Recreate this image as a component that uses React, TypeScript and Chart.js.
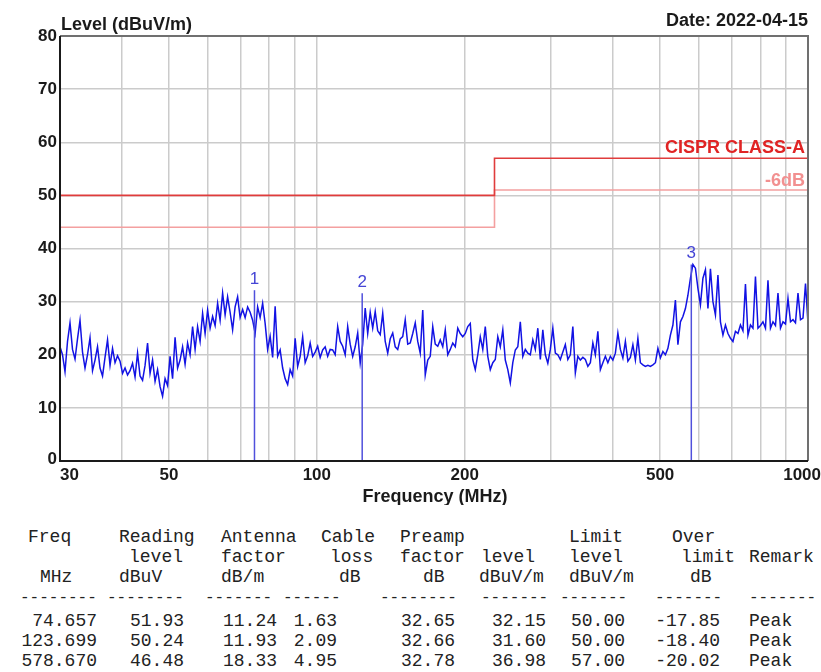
import React, { useEffect, useRef } from "react";
import { Chart, registerables } from "chart.js";

Chart.register(...registerables);

// ---------------- data ----------------
const SWEEP_START = 30;
const SWEEP_STOP = 1000;

const TRACE_LEVEL = [
  21.5, 20.0, 16.8, 22.5, 26.0, 21.0, 19.2, 23.0, 26.5, 20.5,
  17.5, 20.0, 23.2, 17.0, 19.0, 21.5, 17.5, 16.0, 19.5, 22.8,
  18.0, 21.2, 18.5, 19.8, 18.8, 16.5, 17.5, 16.2, 17.0, 18.4,
  15.8, 20.3, 16.0, 15.2, 18.0, 22.2, 16.5, 19.0, 15.0, 17.2,
  14.0, 12.2, 15.5, 14.2, 19.7, 15.5, 23.3, 17.5, 19.0, 21.5,
  18.2, 22.2, 20.0, 25.3, 21.0, 25.3, 22.5, 27.8, 24.0, 28.4,
  25.0, 27.2, 25.5, 29.7, 26.5, 31.6, 27.5, 30.9, 28.0, 24.7,
  29.0, 30.9, 27.0, 28.5, 27.0, 29.0,
  28.0, 26.5, 24.0, 29.0, 27.0, 29.7, 25.9, 21.0, 23.5, 19.5,
  29.1, 19.7, 20.9, 17.5, 15.5, 14.4, 17.2, 16.0, 23.1, 17.8,
  19.7, 23.4, 18.5, 19.8, 22.2, 19.7, 20.5, 21.6, 19.5, 20.9,
  21.5, 19.7, 21.0, 20.9, 20.0, 25.3, 22.5, 21.6, 20.0, 25.3,
  22.0, 19.7, 21.5, 24.1, 18.4, 22.0, 28.8, 24.0, 28.0, 25.0,
  28.1, 24.5, 23.8, 27.8, 22.5, 20.3, 23.0, 24.1, 21.5, 21.0,
  23.0, 23.4, 26.6, 22.0, 22.2, 24.0, 26.0, 22.5, 20.3, 28.4,
  16.2, 19.0, 19.7,
  25.3, 22.0, 21.6, 22.8, 21.5, 24.7, 20.0, 21.0, 22.2, 21.5,
  25.0, 24.0, 23.4, 24.0, 25.3, 25.9, 19.1, 17.2, 20.0, 23.4,
  21.0, 25.3, 19.7, 17.2, 18.5, 19.1, 23.4, 21.5, 24.7, 19.0,
  17.2, 14.7, 18.5, 20.9, 21.5, 26.2, 19.7, 21.0, 20.3, 20.0,
  22.8, 21.0, 25.0, 19.1, 24.7, 20.0, 18.4, 21.0, 25.0, 20.3,
  20.0, 19.1, 20.5, 21.9, 19.1, 20.0, 25.3, 16.6, 19.7, 19.0,
  19.5, 19.1, 17.8, 18.5, 22.2, 20.0, 24.4, 17.2, 18.5, 19.7,
  18.5, 19.7, 19.0, 20.3, 24.1,
  21.0, 19.4, 22.5, 18.8, 19.5, 21.9, 19.0, 23.1, 18.5, 18.1,
  17.8, 18.0, 17.8, 18.1, 18.5, 21.2, 19.4, 20.6, 20.0, 21.2,
  23.7, 25.6, 30.3, 21.9, 26.2, 27.2, 28.7, 31.2, 34.4, 37.0,
  36.3, 32.5, 29.4, 34.4, 36.0, 28.7, 36.2, 30.0, 27.5, 35.0,
  26.2, 23.7, 25.6, 24.0, 23.1, 22.5, 24.4, 24.0, 25.6, 24.5,
  33.3, 23.7, 25.6, 25.0, 34.7, 25.0, 25.5, 26.2, 25.0, 34.0,
  25.0, 26.2, 25.5, 31.6, 25.0, 26.2, 25.8, 30.6, 26.2, 26.6,
  26.0, 31.6, 26.6, 26.9, 33.4, 25.9,
];

const LIMIT_FREQ = [30, 230, 230, 1000];
const LIMIT_CLASS_A = [50, 50, 57, 57];
const LIMIT_MINUS_6DB = [44, 44, 51, 51];

const MARKER_FREQ = [74.657, 123.699, 578.67];
const MARKER_LEVEL = [32.15, 31.6, 36.98];
const MARKER_LABEL = ["1", "2", "3"];

const X_GRID = [30, 40, 50, 60, 70, 80, 90, 100, 200, 300, 400, 500, 600, 700, 800, 900, 1000];
const X_LABELS = [30, 50, 100, 200, 500, 1000];
const Y_TICKS = [0, 10, 20, 30, 40, 50, 60, 70, 80];

const TBL_FREQ = ["74.657", "123.699", "578.670"];
const TBL_READING = ["51.93", "50.24", "46.48"];
const TBL_ANTENNA = ["11.24", "11.93", "18.33"];
const TBL_CABLE = ["1.63", "2.09", "4.95"];
const TBL_PREAMP = ["32.65", "32.66", "32.78"];
const TBL_LEVEL = ["32.15", "31.60", "36.98"];
const TBL_LIMIT = ["50.00", "50.00", "57.00"];
const TBL_OVER = ["-17.85", "-18.40", "-20.02"];
const TBL_REMARK = ["Peak", "Peak", "Peak"];

// sweep grid of the receiver (log spaced points between start and stop)
const TRACE_FREQ = TRACE_LEVEL.map(
  (_, i) => SWEEP_START * Math.pow(SWEEP_STOP / SWEEP_START, i / (TRACE_LEVEL.length - 1))
);

// ---------------- layout ----------------
const W = 821;
const CH = 505;
const SANS = '"Liberation Sans", Arial, sans-serif';
const MONO = '"Liberation Mono", "DejaVu Sans Mono", monospace';

const HEAD_ROWS: Array<Array<[string, number]>> = [
  [["Freq", 28], ["Reading", 119], ["Antenna", 221], ["Cable", 321], ["Preamp", 400], ["Limit", 569], ["Over", 672]],
  [["level", 129], ["factor", 221], ["loss", 330], ["factor", 400], ["level", 481], ["level", 569], ["limit", 681], ["Remark", 749]],
  [["MHz", 40], ["dBuV", 119], ["dB/m", 221], ["dB", 339], ["dB", 423], ["dBuV/m", 479], ["dBuV/m", 569], ["dB", 690]],
];
const DASH_GROUPS: Array<[number, number]> = [
  [20, 8], [107, 8], [205, 7], [283, 6], [380, 8], [481, 7], [560, 7], [655, 7], [749, 7],
];
const DATA_COLS = [TBL_FREQ, TBL_READING, TBL_ANTENNA, TBL_CABLE, TBL_PREAMP, TBL_LEVEL, TBL_LIMIT, TBL_OVER];
const DATA_RIGHT = [97, 184, 277, 337, 455, 546, 625, 720];
const REMARK_LEFT = 749;
const ROW_Y = [537, 557, 577, 598, 621, 641, 661];

const overlay = {
  id: "overlay",
  afterDraw(chart: any) {
    const { ctx, chartArea: a, scales } = chart;
    const x = scales.x;
    const y = scales.y;
    ctx.save();
    // frame
    ctx.lineWidth = 2;
    ctx.strokeStyle = "#707070";
    ctx.beginPath();
    ctx.moveTo(a.left, a.top);
    ctx.lineTo(a.right, a.top);
    ctx.lineTo(a.right, a.bottom);
    ctx.stroke();
    ctx.strokeStyle = "#1a1a1a";
    ctx.beginPath();
    ctx.moveTo(a.left, a.top);
    ctx.lineTo(a.left, a.bottom);
    ctx.lineTo(a.right, a.bottom);
    ctx.stroke();

    // y tick labels
    ctx.fillStyle = "#1a1a1a";
    ctx.font = `bold 17px ${SANS}`;
    ctx.textAlign = "right";
    ctx.textBaseline = "middle";
    Y_TICKS.forEach((v) => ctx.fillText(String(v), a.left - 3, y.getPixelForValue(v) - (v === 0 ? 2 : 0)));

    // x tick labels
    X_LABELS.forEach((v, i) => {
      const last = i === X_LABELS.length - 1;
      ctx.textAlign = i === 0 ? "left" : last ? "right" : "center";
      const px = i === 0 ? a.left : last ? chart.width : x.getPixelForValue(v);
      ctx.fillText(String(v), px, a.bottom + 14);
    });

    // titles
    ctx.font = `bold 18px ${SANS}`;
    ctx.textBaseline = "alphabetic";
    ctx.textAlign = "left";
    ctx.fillText("Level (dBuV/m)", a.left + 1, 30);
    ctx.textAlign = "right";
    ctx.fillText("Date: 2022-04-15", a.right, 26);
    ctx.textAlign = "center";
    ctx.fillText("Frequency (MHz)", (a.left + a.right) / 2 + 1, 502);

    // limit labels
    ctx.textAlign = "right";
    ctx.fillStyle = "#e02424";
    ctx.fillText("CISPR CLASS-A", a.right - 3, y.getPixelForValue(LIMIT_CLASS_A[3]) - 5);
    ctx.fillStyle = "#f29090";
    ctx.fillText("-6dB", a.right - 3, y.getPixelForValue(LIMIT_MINUS_6DB[3]) - 4);

    // marker labels
    ctx.font = `17px ${SANS}`;
    ctx.fillStyle = "#4545d5";
    ctx.textAlign = "center";
    ctx.textBaseline = "middle";
    MARKER_FREQ.forEach((f, i) => {
      ctx.fillText(MARKER_LABEL[i], x.getPixelForValue(f), y.getPixelForValue(MARKER_LEVEL[i]) - 11);
    });
    ctx.restore();
  },
};

function ChartBox() {
  const ref = useRef<HTMLCanvasElement | null>(null);
  useEffect(() => {
    if (!ref.current) return;
    const markerSets = MARKER_FREQ.map((f, i) => ({
      label: "marker" + MARKER_LABEL[i],
      data: [
        { x: f, y: 0 },
        { x: f, y: MARKER_LEVEL[i] },
      ],
      borderColor: "#5050dc",
      borderWidth: 1.5,
      showLine: true,
      pointRadius: 0,
      order: 1,
    }));
    const chart = new Chart(ref.current, {
      type: "scatter",
      data: {
        datasets: [
          ...markerSets,
          {
            label: "trace",
            data: TRACE_FREQ.map((f, i) => ({ x: f, y: TRACE_LEVEL[i] })),
            borderColor: "#1212e4",
            borderWidth: 1.5,
            showLine: true,
            pointRadius: 0,
            order: 2,
          },
          {
            label: "CISPR CLASS-A",
            data: LIMIT_FREQ.map((f, i) => ({ x: f, y: LIMIT_CLASS_A[i] })),
            borderColor: "#e03c3c",
            borderWidth: 1.6,
            showLine: true,
            pointRadius: 0,
            order: 3,
          },
          {
            label: "-6dB",
            data: LIMIT_FREQ.map((f, i) => ({ x: f, y: LIMIT_MINUS_6DB[i] })),
            borderColor: "#f4a0a0",
            borderWidth: 1.6,
            showLine: true,
            pointRadius: 0,
            order: 4,
          },
        ],
      },
      options: {
        animation: false,
        responsive: false,
        devicePixelRatio: 1,
        layout: { padding: { left: 0, right: 13, top: 36, bottom: 0 } },
        plugins: { legend: { display: false }, tooltip: { enabled: false } },
        scales: {
          x: {
            type: "logarithmic",
            min: 30,
            max: 1000,
            afterBuildTicks: (s: any) => {
              s.ticks = X_GRID.map((v) => ({ value: v }));
            },
            afterFit: (s: any) => {
              s.height = CH - 461;
            },
            ticks: { display: false },
            grid: { color: "#cbcbcb", lineWidth: 1.5, drawTicks: false },
            border: { display: false },
          },
          y: {
            min: 0,
            max: 80,
            ticks: { display: false, stepSize: 10 },
            afterFit: (s: any) => {
              s.width = 60;
            },
            grid: { color: "#cbcbcb", lineWidth: 1.5, drawTicks: false },
            border: { display: false },
          },
        },
      },
      plugins: [overlay],
    } as any);
    return () => chart.destroy();
  }, []);
  return <canvas ref={ref} width={W} height={CH} style={{ display: "block", width: W, height: CH }} />;
}

const cell = (top: number, size = 18): React.CSSProperties => ({
  position: "absolute",
  top: top - 10,
  height: 20,
  lineHeight: "20px",
  whiteSpace: "pre",
  fontFamily: MONO,
  fontSize: size,
  color: "#222",
});

export default function App() {
  const spans: React.ReactNode[] = [];
  HEAD_ROWS.forEach((row, r) =>
    row.forEach(([t, xx], k) =>
      spans.push(
        <span key={`h${r}-${k}`} style={{ ...cell(ROW_Y[r]), left: xx }}>
          {t}
        </span>
      )
    )
  );
  DASH_GROUPS.forEach(([xx, n], k) =>
    spans.push(
      <span key={`d${k}`} style={{ ...cell(ROW_Y[3], 16), left: xx }}>
        {"-".repeat(n)}
      </span>
    )
  );
  for (let r = 0; r < 3; r++) {
    DATA_COLS.forEach((col, c) =>
      spans.push(
        <span key={`v${r}-${c}`} style={{ ...cell(ROW_Y[4 + r]), right: W - DATA_RIGHT[c] }}>
          {col[r]}
        </span>
      )
    );
    spans.push(
      <span key={`rm${r}`} style={{ ...cell(ROW_Y[4 + r]), left: REMARK_LEFT }}>
        {TBL_REMARK[r]}
      </span>
    );
  }
  return (
    <div style={{ position: "absolute", left: 0, top: 0, width: W, height: 672, background: "#fff", overflow: "hidden" }}>
      <ChartBox />
      {spans}
    </div>
  );
}
